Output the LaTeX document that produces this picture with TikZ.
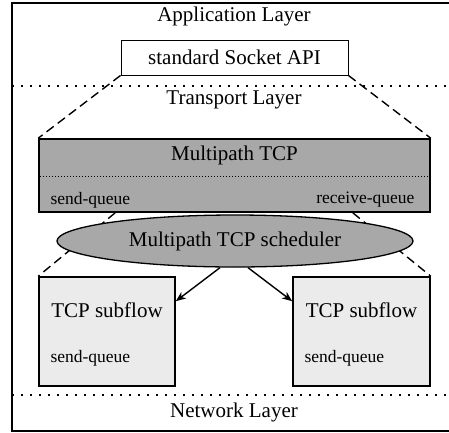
\documentclass[tikz,border=0pt]{standalone}
\usepackage{fontspec}
\setmainfont{Liberation Serif}
\usetikzlibrary{shapes.geometric,arrows.meta}
\definecolor{mpgray}{RGB}{168,168,168}
\definecolor{sfgray}{RGB}{235,235,235}
\tikzset{
  bigtext/.style={font=\fontsize{21}{24}\selectfont},
  smalltext/.style={font=\fontsize{17.5}{20}\selectfont},
  layerline/.style={line width=1.6pt, dash pattern=on 1.6pt off 7.4pt},
  linkline/.style={line width=1.4pt, dash pattern=on 9pt off 5pt},
  boxthick/.style={draw, line width=1.6pt, inner sep=0pt},
  flowarrow/.style={line width=1.4pt, -{Stealth[length=10pt,width=8pt,inset=3pt]}}
}
\begin{document}
\begin{tikzpicture}[x=1pt,y=-1pt]
\useasboundingbox (0,0) rectangle (449,432);
% outer frame (open on the right)
\draw[line width=1.3pt] (452,3) -- (12,3) -- (12,431) -- (452,431);

% application layer
\node[bigtext] (app) at (234,16) {Application Layer};
\node[draw, fill=white, line width=0.9pt, minimum width=227pt, minimum height=35pt, inner sep=0pt, bigtext] (api) at (234.5,57.5) {standard Socket API};

% transport layer
\coordinate (tl1) at (12,86);
\coordinate (tl2) at (452,86);
\draw[layerline] (tl1) -- (tl2);
\node[bigtext] (tlabel) at (234,100) {Transport Layer};

% multipath TCP block
\node[boxthick, fill=mpgray, minimum width=391pt, minimum height=73pt] (mptcp) at (234.5,175.5) {};
\draw[linkline] (api.south west) -- (mptcp.north west);
\draw[linkline] (api.south east) -- (mptcp.north east);
\node[bigtext] (mptitle) at (234.5,155) {Multipath TCP};
\draw[line width=0.6pt, dash pattern=on 1pt off 2pt] ([xshift=2pt,yshift=-38pt]mptcp.north west) -- ([xshift=-2pt,yshift=-38pt]mptcp.north east);
\node[smalltext, anchor=west] (sq) at (47,200) {send-queue};
\node[smalltext, anchor=east] (rq) at (418,200) {receive-queue};

% subflows
\node[boxthick, fill=sfgray, minimum width=136pt, minimum height=109pt] (sf1) at (107,331.5) {};
\node[boxthick, fill=sfgray, minimum width=137pt, minimum height=109pt] (sf2) at (361.5,331.5) {};
\node[bigtext] (sf1t) at (107,310) {TCP subflow};
\node[bigtext] (sf2t) at (361.5,310) {TCP subflow};
\node[smalltext, anchor=west] (sf1q) at (47,358) {send-queue};
\node[smalltext, anchor=west] (sf2q) at (301,358) {send-queue};

% links from the queues down to the subflows (passing behind the scheduler)
\draw[linkline] ([xshift=77pt]mptcp.south west) -- (sf1.north west);
\draw[linkline] ([xshift=-78pt]mptcp.south east) -- (sf2.north east);

% scheduler
\node[draw, ellipse, fill=mpgray, line width=1.3pt, minimum width=356pt, minimum height=52pt, inner sep=0pt, bigtext] (sched) at (235,241) {Multipath TCP scheduler};
\draw[flowarrow] ([xshift=-15pt]sched.south) -- ([yshift=-25pt]sf1.north east);
\draw[flowarrow] ([xshift=13pt]sched.south) -- ([yshift=-25pt]sf2.north west);

% network layer
\coordinate (nl1) at (12,395);
\coordinate (nl2) at (452,395);
\draw[layerline] (nl1) -- (nl2);
\node[bigtext] (nlabel) at (234,412) {Network Layer};
\end{tikzpicture}
\end{document}
